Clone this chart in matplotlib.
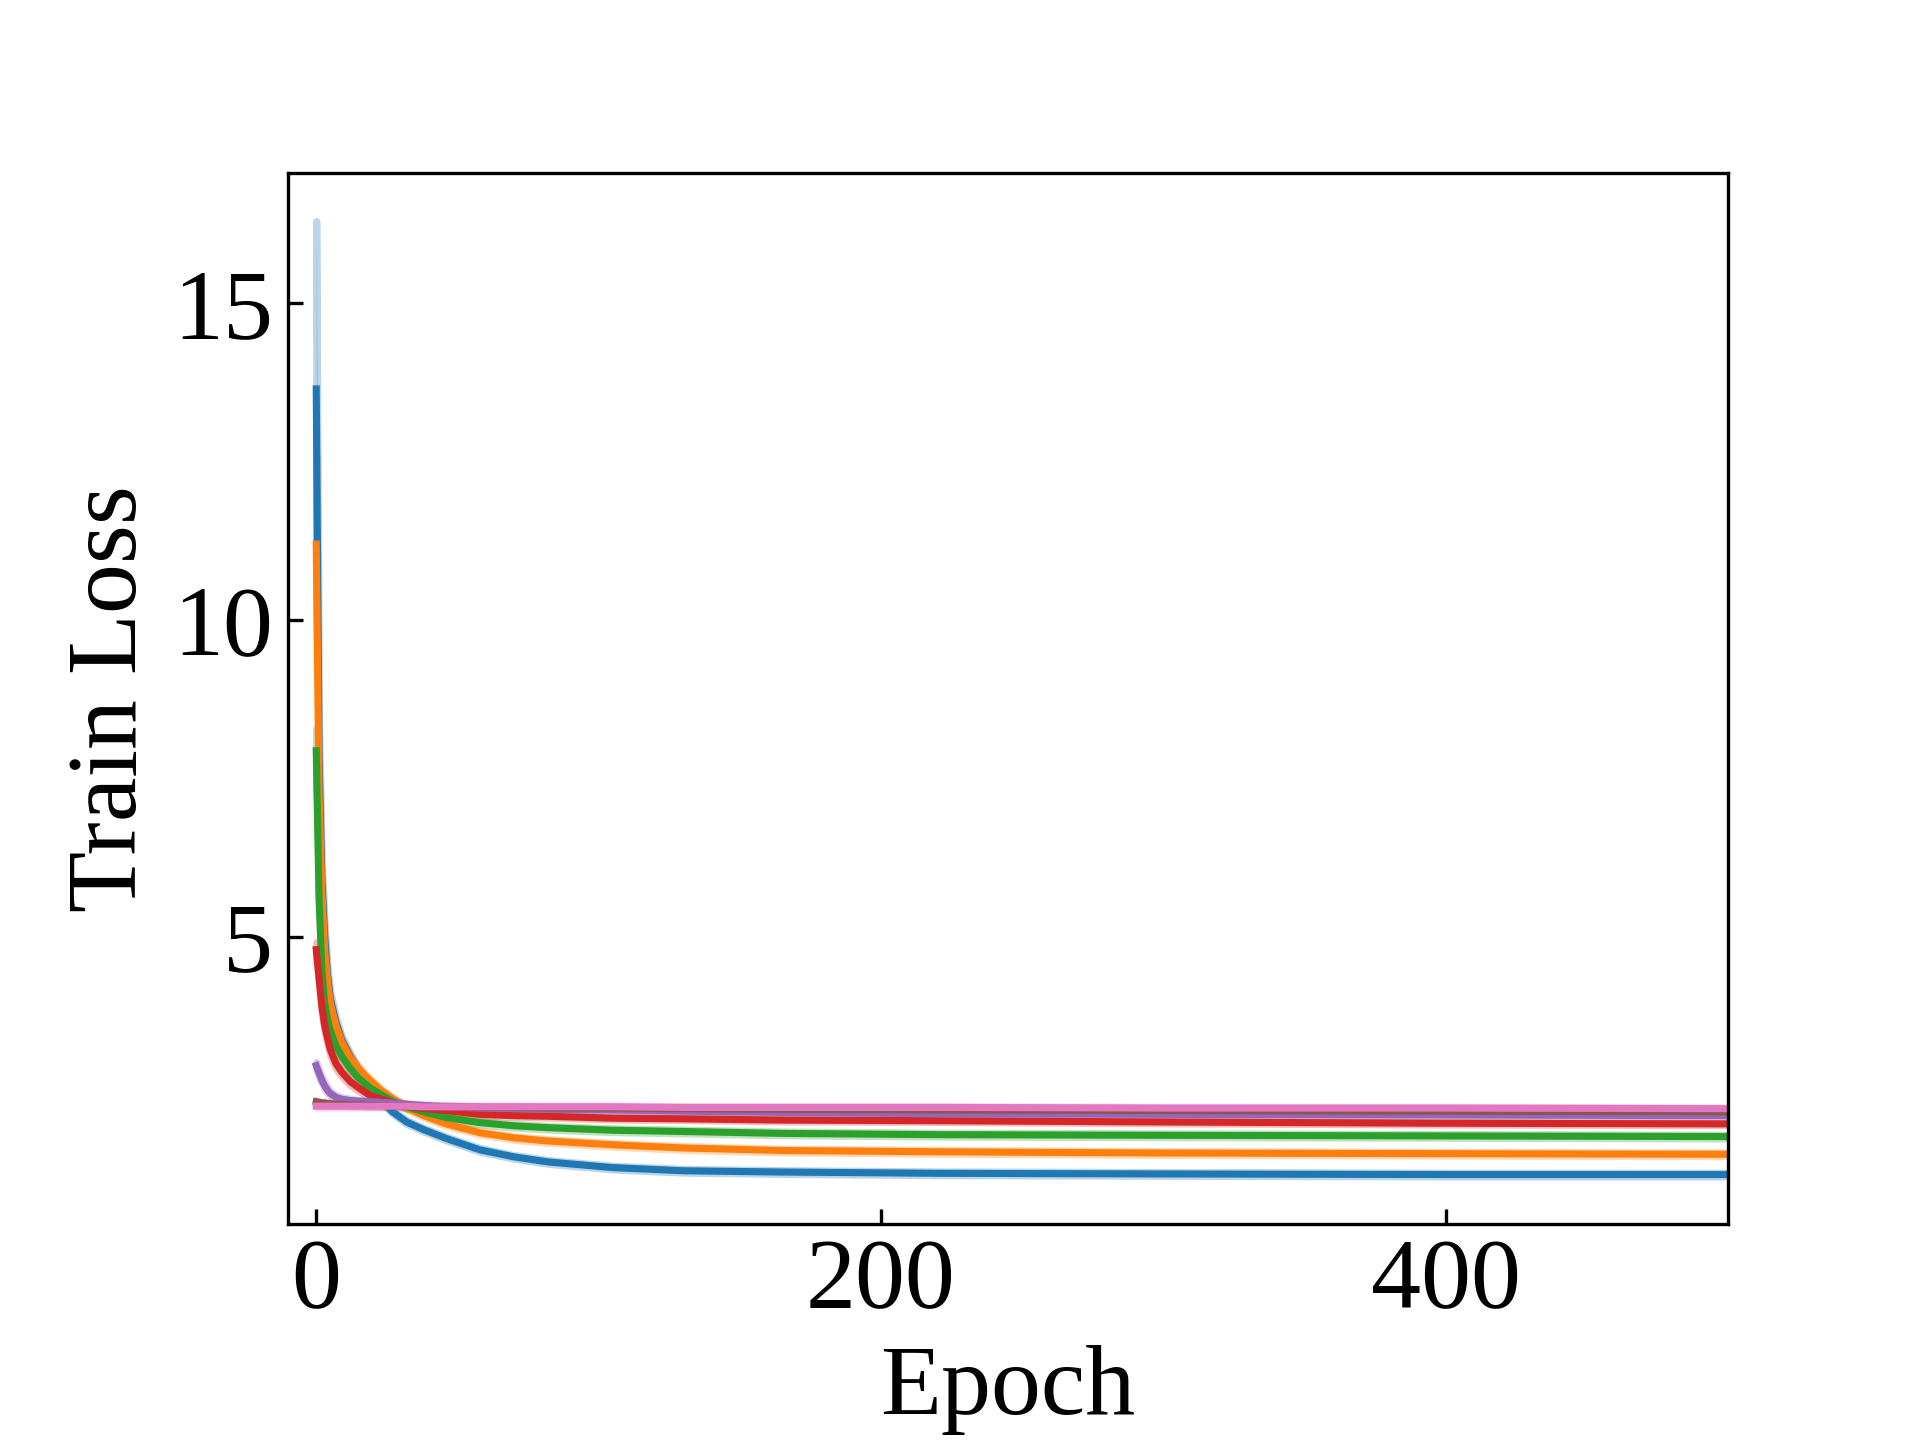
import matplotlib
matplotlib.use('Agg')
import matplotlib.pyplot as plt

plt.rcParams['font.family'] = ['Liberation Serif', 'DejaVu Serif']
plt.rcParams['font.size'] = 24

epochs = [0, 1, 2, 3, 4, 5, 7, 9, 12, 15, 19, 23, 27, 32, 38, 46, 58, 70, 82, 105, 130, 165, 220, 300, 400, 499]

loss_blue = [13.65, 7.8, 5.9, 5.0, 4.4, 4.02, 3.65, 3.38, 3.12, 2.9, 2.63, 2.42, 2.24, 2.08, 1.96, 1.82, 1.64, 1.53, 1.45, 1.36, 1.31, 1.29, 1.27, 1.26, 1.25, 1.25]
loss_orange = [11.2, 7.3, 5.7, 4.8, 4.3, 3.95, 3.6, 3.35, 3.1, 2.92, 2.74, 2.58, 2.45, 2.31, 2.18, 2.05, 1.91, 1.83, 1.78, 1.72, 1.67, 1.63, 1.61, 1.59, 1.58, 1.57]
loss_green = [7.94, 5.6, 4.5, 3.95, 3.7, 3.52, 3.28, 3.12, 2.93, 2.77, 2.62, 2.51, 2.41, 2.32, 2.24, 2.15, 2.07, 2.02, 1.99, 1.95, 1.93, 1.9, 1.88, 1.87, 1.86, 1.85]
loss_red = [4.8, 4.35, 3.9, 3.6, 3.4, 3.22, 3.0, 2.87, 2.72, 2.62, 2.5, 2.44, 2.39, 2.33, 2.29, 2.26, 2.2, 2.18, 2.17, 2.14, 2.13, 2.11, 2.1, 2.08, 2.06, 2.05]
loss_purple = [2.97, 2.85, 2.74, 2.65, 2.58, 2.53, 2.47, 2.44, 2.42, 2.41, 2.4, 2.39, 2.38, 2.36, 2.34, 2.32, 2.3, 2.29, 2.28, 2.27, 2.25, 2.23, 2.21, 2.2, 2.19, 2.18]
loss_brown = [2.4, 2.39, 2.38, 2.38, 2.37, 2.37, 2.36, 2.36, 2.35, 2.35, 2.34, 2.34, 2.33, 2.33, 2.32, 2.32, 2.31, 2.31, 2.3, 2.3, 2.29, 2.28, 2.27, 2.26, 2.25, 2.24]
loss_pink = [2.33, 2.33, 2.33, 2.33, 2.33, 2.33, 2.33, 2.33, 2.33, 2.33, 2.33, 2.33, 2.33, 2.33, 2.32, 2.32, 2.32, 2.32, 2.32, 2.32, 2.31, 2.31, 2.31, 2.3, 2.3, 2.29]

# spread across runs (half width of the faint band)
std_blue = [2.65, 0.6, 0.3, 0.2, 0.15, 0.12, 0.08, 0.06, 0.05, 0.04, 0.04, 0.03, 0.03, 0.03, 0.03, 0.03, 0.03, 0.03, 0.03, 0.03, 0.03, 0.03, 0.03, 0.03, 0.03, 0.03]
std_orange = [1.4, 0.4, 0.2, 0.15, 0.1, 0.08, 0.06, 0.05, 0.04, 0.04, 0.03, 0.03, 0.03, 0.03, 0.03, 0.03, 0.03, 0.03, 0.03, 0.03, 0.03, 0.03, 0.03, 0.03, 0.03, 0.03]
std_green = [0.35, 0.2, 0.12, 0.1, 0.08, 0.07, 0.06, 0.05, 0.04, 0.04, 0.03, 0.03, 0.03, 0.03, 0.03, 0.03, 0.03, 0.03, 0.03, 0.03, 0.03, 0.03, 0.03, 0.03, 0.03, 0.03]
std_red = [0.12, 0.12, 0.12, 0.1, 0.1, 0.09, 0.08, 0.07, 0.06, 0.05, 0.04, 0.03, 0.03, 0.03, 0.02, 0.02, 0.02, 0.02, 0.02, 0.02, 0.02, 0.02, 0.02, 0.02, 0.02, 0.02]
std_purple = [0.06, 0.06, 0.05, 0.05, 0.05, 0.04, 0.04, 0.03, 0.03, 0.02, 0.02, 0.02, 0.02, 0.02, 0.02, 0.02, 0.02, 0.02, 0.02, 0.02, 0.02, 0.02, 0.02, 0.02, 0.02, 0.02]
std_brown = [0.02] * len(epochs)
std_pink = [0.02] * len(epochs)

series = [
    (loss_blue, std_blue, 'tab:blue'),
    (loss_orange, std_orange, 'tab:orange'),
    (loss_green, std_green, 'tab:green'),
    (loss_red, std_red, 'tab:red'),
    (loss_purple, std_purple, 'tab:purple'),
    (loss_brown, std_brown, 'tab:brown'),
    (loss_pink, std_pink, 'tab:pink'),
]

fig, ax = plt.subplots(figsize=(6.4, 4.8), dpi=300)
plt.subplots_adjust(left=0.15, bottom=0.15, right=0.9, top=0.88)

for mean, std, color in series:
    lo = [m - s for m, s in zip(mean, std)]
    hi = [m + s for m, s in zip(mean, std)]
    ax.fill_between(epochs, lo, hi, color=color, alpha=0.3, linewidth=1.7, edgecolor=color)
    ax.plot(epochs, mean, color=color, linewidth=1.7)

ax.set_xlim(-10, 500)
ax.set_ylim(0.47, 17.06)
ax.set_xticks([0, 200, 400])
ax.set_yticks([5, 10, 15])
ax.tick_params(direction='in', labelsize=24)
ax.set_xlabel('Epoch', fontsize=24)
ax.set_ylabel('Train Loss', fontsize=24)

plt.savefig('out.png', dpi=300)
